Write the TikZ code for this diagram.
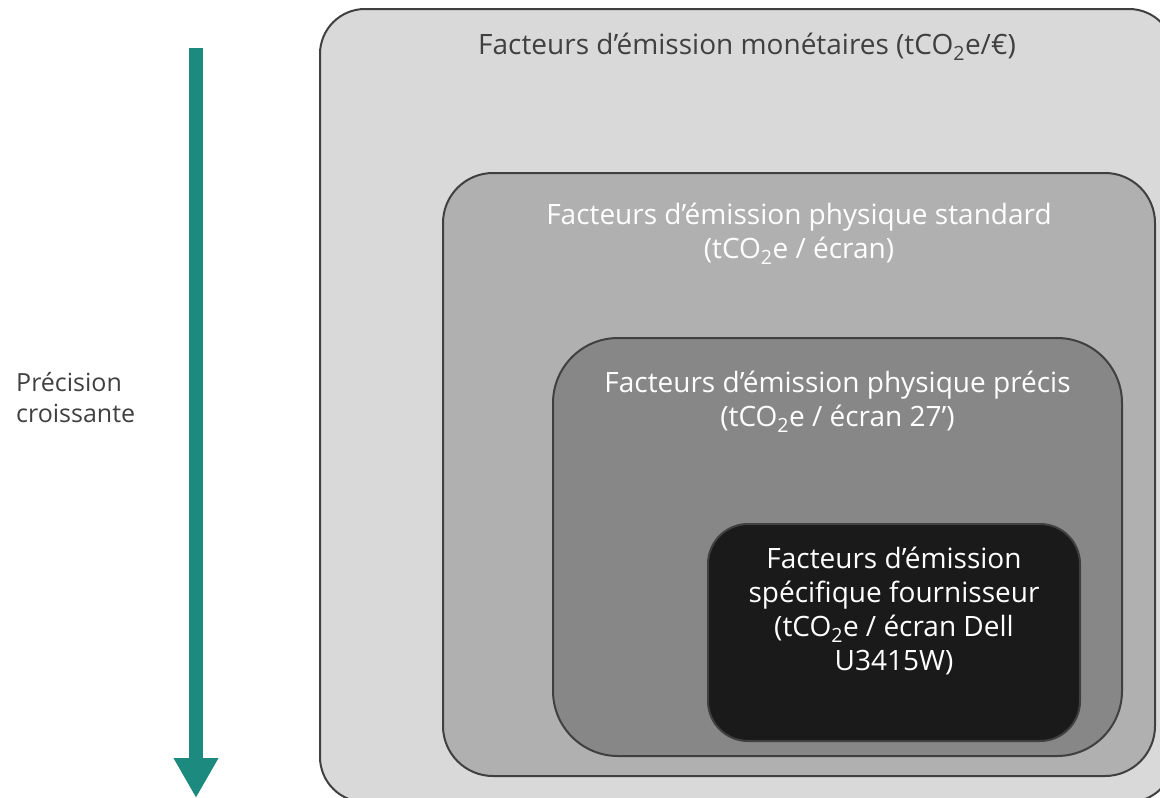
\documentclass[tikz,border=0pt]{standalone}
\usepackage{fontspec}
\setmainfont{Open Sans}
\usetikzlibrary{arrows.meta,positioning}
\definecolor{PaleGrey}{HTML}{D9D9D9}
\definecolor{MidGrey}{HTML}{B0B0B0}
\definecolor{DarkGrey}{HTML}{878787}
\definecolor{NearBlack}{HTML}{1A1A1A}
\definecolor{EdgeGrey}{HTML}{404040}
\definecolor{TealArrow}{HTML}{1D8A80}
\newcommand{\tcoe}{tCO\textsubscript{2}e}

\begin{document}
\begin{tikzpicture}[x=1pt,y=-1pt, every node/.style={align=center, inner sep=0pt, font=\fontsize{28}{34}\selectfont}, >=Latex]
  \tikzset{panel/.style={draw=EdgeGrey,line width=2pt}}
  \useasboundingbox (0,0) rectangle (1160,798);
  \node[panel,fill=PaleGrey,rounded corners=45pt,minimum width=854pt,minimum height=793pt] (monetary) at (747,405.5) {};
  \node[panel,fill=MidGrey,rounded corners=50pt,minimum width=712pt,minimum height=603pt] (standard) at (799,474.5) {};
  \node[panel,fill=DarkGrey,rounded corners=65pt,minimum width=569pt,minimum height=418pt] (precise) at (837.5,547) {};
  \node[panel,fill=NearBlack,rounded corners=40pt,minimum width=372pt,minimum height=217pt] (supplier) at (894,632.5) {};
  \node[text=EdgeGrey,below=25pt of monetary.north] (monetarytext) {Facteurs d’émission monétaires (\tcoe/€)};
  \node[text=white,below=31pt of standard.north] (standardtext) {Facteurs d’émission physique standard\\(\tcoe{} / écran)};
  \node[text=white,below=34pt of precise.north] (precisetext) {Facteurs d’émission physique précis\\(\tcoe{} / écran 27’)};
  \node[text=white,below=24pt of supplier.north] (suppliertext) {Facteurs d’émission\\spécifique fournisseur\\(\tcoe{} / écran Dell\\U3415W)};
  \node[text=EdgeGrey,align=left,anchor=west,font=\fontsize{25}{31}\selectfont] (precision) at (16,398) {Précision\\croissante};
  \coordinate (arrowtop) at (196,48);
  \coordinate (arrowtip) at (196,798);
  \draw[TealArrow,line width=14pt,-{Triangle[width=42pt,length=40pt]}] (arrowtop) -- (arrowtip);
\end{tikzpicture}
\end{document}
